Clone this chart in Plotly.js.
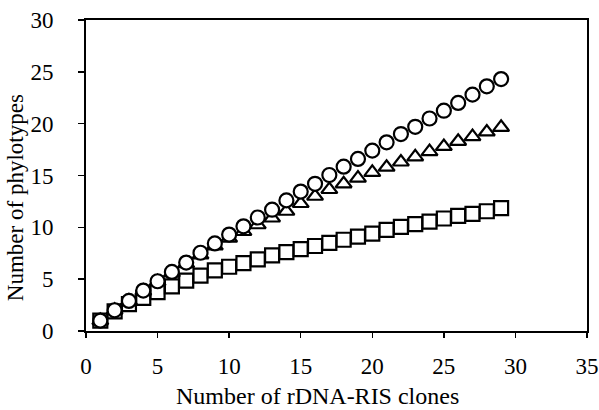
<!DOCTYPE html>
<html>
<head>
<meta charset="utf-8">
<script src="https://cdn.plot.ly/plotly-3.0.1.min.js"></script>
<style>html,body{margin:0;padding:0;background:#fff;}#chart{width:599px;height:410px;}</style>
</head>
<body>
<div id="chart"></div>
<script>
var clones = [1,2,3,4,5,6,7,8,9,10,11,12,13,14,15,16,17,18,19,20,21,22,23,24,25,26,27,28,29];
var seriesCircle = [1,2,2.9,3.9,4.8,5.7,6.6,7.55,8.45,9.3,10.1,10.95,11.7,12.6,13.45,14.2,15.05,15.85,16.6,17.4,18.2,19.0,19.7,20.5,21.25,22.0,22.8,23.6,24.3];
var seriesTriangle = [1,2,2.9,3.85,4.75,5.6,6.5,7.35,8.2,8.95,9.6,10.25,10.9,11.55,12.3,13.0,13.65,14.2,14.75,15.3,15.8,16.3,16.8,17.3,17.8,18.3,18.75,19.2,19.65];
var seriesSquare = [1,1.9,2.6,3.2,3.75,4.3,4.85,5.35,5.85,6.2,6.55,6.9,7.3,7.6,7.9,8.2,8.5,8.8,9.1,9.4,9.75,10.05,10.3,10.55,10.85,11.1,11.3,11.55,11.85];
var xTicks = [0,5,10,15,20,25,30,35];
var yTicks = [0,5,10,15,20,25,30];
var xTitle = 'Number of rDNA-RIS clones';
var yTitle = 'Number of phylotypes';

function mk(sym, y) {
  return {
    x: clones, y: y, type: 'scatter', mode: 'markers', cliponaxis: false,
    marker: {symbol: sym, size: 14, color: '#ffffff', line: {color: '#000000', width: 2.2}},
    showlegend: false
  };
}
var data = [mk('square', seriesSquare), mk('triangle-up', seriesTriangle), mk('circle', seriesCircle)];

var fam = 'Liberation Serif, Times New Roman, serif';
var tickFont = {family: fam, color: '#000', size: 23};
var titleFont = {family: fam, color: '#000', size: 24};
var layout = {
  width: 599, height: 410,
  margin: {l: 86, r: 12, t: 20, b: 79},
  paper_bgcolor: '#fff', plot_bgcolor: '#fff',
  font: tickFont,
  showlegend: false,
  xaxis: {
    range: [0, 35], tickvals: xTicks, ticktext: xTicks.map(String),
    showgrid: false, zeroline: false, showline: true, mirror: true,
    linecolor: '#000', linewidth: 2, ticks: 'outside', ticklen: 5, tickwidth: 1.5, tickcolor: '#000',
    ticklabelstandoff: 8, ticklabeloverflow: 'allow', tickfont: tickFont
  },
  yaxis: {
    range: [0, 30], tickvals: yTicks, ticktext: yTicks.map(String),
    showgrid: false, zeroline: false, showline: true, mirror: true,
    linecolor: '#000', linewidth: 2, ticks: 'outside', ticklen: 6, tickwidth: 1.5, tickcolor: '#000',
    ticklabelstandoff: 20, tickfont: tickFont
  },
  annotations: [
    {text: xTitle, xref: 'paper', yref: 'paper', x: 0.462, y: -0.209, xanchor: 'center', yanchor: 'middle', showarrow: false, font: titleFont},
    {text: yTitle, xref: 'paper', yref: 'paper', x: -0.142, y: 0.43, xanchor: 'center', yanchor: 'middle', textangle: -90, showarrow: false, font: {family: fam, color: '#000', size: 23}}
  ]
};
Plotly.newPlot('chart', data, layout, {displayModeBar: false, staticPlot: true});
</script>
</body>
</html>
